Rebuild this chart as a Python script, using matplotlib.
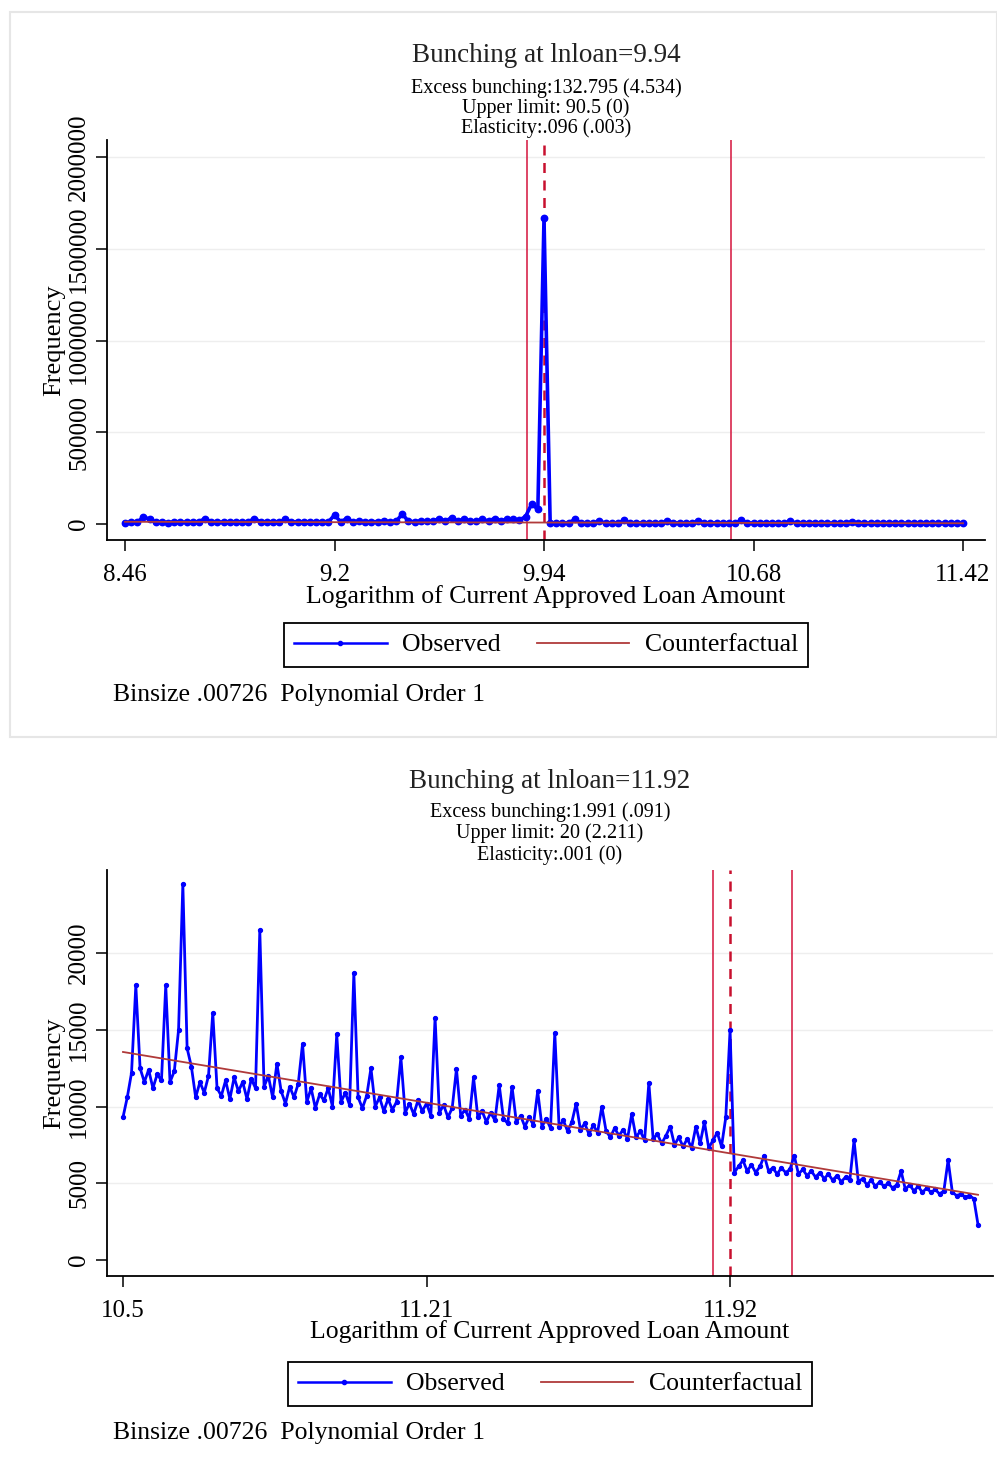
import numpy as np
import matplotlib.pyplot as plt
from matplotlib.patches import Rectangle
from matplotlib.lines import Line2D

plt.rcParams['font.family'] = ['Liberation Serif', 'DejaVu Serif']

# ---- panel 1: bunching at lnloan = 9.94 ----
top_start, top_end = 8.46, 11.42
top_ticks = [8.46, 9.2, 9.94, 10.68, 11.42]
top_cut = 9.94
top_lower, top_upper = 9.88, 10.60
# observed frequency, thousands
top_obs_k = [8, 10, 9, 40, 25, 9, 10, 8, 11, 9, 10, 9, 12, 30, 10, 9, 11, 10, 12, 10,
             11, 30, 11, 10, 12, 11, 25, 11, 12, 10, 13, 11, 12, 11, 49, 12, 30, 12, 14, 12,
             13, 12, 15, 13, 14, 55, 14, 13, 16, 14, 15, 30, 15, 35, 16, 25, 16, 17, 25, 17,
             30, 18, 25, 25, 22, 40, 110, 80, 1668, 5, 6, 5, 6, 25, 6, 5, 6, 15, 5, 6,
             5, 20, 5, 6, 5, 6, 5, 5, 15, 5, 6, 5, 5, 15, 5, 5, 6, 5, 5, 5,
             20, 5, 5, 4, 5, 4, 5, 4, 15, 4, 5, 4, 4, 5, 4, 4, 4, 5, 12, 4,
             4, 4, 3, 4, 4, 3, 4, 3, 4, 3, 3, 4, 3, 3, 3, 3, 3]
top_cf_x = [8.46, 11.42]
top_cf_y = [12000, 4000]

# ---- panel 2: bunching at lnloan = 11.92 ----
bot_start, bot_end = 10.5, 12.5
bot_ticks = [10.5, 11.21, 11.92]
bot_cut = 11.92
bot_lower, bot_upper = 11.88, 12.065
bot_obs = [9300, 10600, 12200, 17900, 12500, 11600, 12400, 11200, 12100, 11700,
           17900, 11600, 12300, 15000, 24500, 13800, 12600, 10600, 11600, 10900,
           12000, 16100, 11200, 10700, 11700, 10500, 11900, 11000, 11600, 10500,
           11800, 11200, 21500, 11300, 12000, 10600, 12800, 11000, 10200, 11300,
           10600, 11500, 14100, 10300, 11200, 9900, 10800, 10400, 11200, 10000,
           14700, 10300, 10900, 10100, 18700, 10600, 9900, 10700, 12500, 10000,
           10600, 9700, 10500, 9800, 10300, 13200, 9600, 10200, 9500, 10400,
           9700, 10200, 9400, 15800, 9600, 10100, 9300, 9900, 12450, 9400,
           9800, 9200, 11900, 9300, 9700, 9000, 9600, 9100, 11400, 9200,
           8900, 11300, 9000, 9400, 8700, 9300, 8800, 11000, 8700, 9200,
           8600, 14800, 8700, 9100, 8400, 9000, 10200, 8500, 8900, 8200,
           8800, 8300, 10000, 8400, 8000, 8600, 8100, 8500, 7900, 9500,
           8000, 8400, 7800, 11540, 7900, 8200, 7600, 8100, 8700, 7500,
           8000, 7400, 7900, 7300, 8700, 7600, 9000, 7300, 7800, 8300,
           7400, 9300, 15000, 5700, 6100, 6500, 5800, 6200, 5700, 6100,
           6800, 5800, 6000, 5600, 6000, 5700, 5900, 6800, 5600, 5900,
           5500, 5800, 5400, 5700, 5300, 5600, 5200, 5500, 5100, 5400,
           5200, 7800, 5100, 5300, 4900, 5200, 4800, 5100, 4800, 5000,
           4700, 4900, 5800, 4600, 4900, 4500, 4800, 4400, 4700, 4400,
           4600, 4300, 4500, 6500, 4400, 4200, 4300, 4100, 4200, 4000,
           2300]
bot_cf_x = [10.5, 11.92, 12.5]
bot_cf_y = [13560, 6950, 4250]

W, H = 997, 1460
fig = plt.figure(figsize=(W / 100, H / 100), dpi=100)
fig.patches.append(Rectangle((10 / W, 1 - 737 / H), 987 / W, 725 / H,
                             transform=fig.transFigure, facecolor='white',
                             edgecolor='#e6e6e6', lw=1.5, zorder=-1))

blue = '#0000ff'
cf_col = '#b03a3a'
red = '#d8264b'


def fy(py):
    return 1 - py / H


def panel(rect, x, obs, cf_x, cf_y, cut, lower, upper, xlim, ylim, xticks, yticks,
          ms, lw, title, sub, ty, sy, xly, legy, notey):
    ax = fig.add_axes(rect)
    ax.plot(x, obs, color=blue, lw=lw, marker='o', ms=ms, zorder=3)
    ax.plot(cf_x, cf_y, color=cf_col, lw=1.3, zorder=4)
    ax.axvline(lower, color=red, lw=1.2, zorder=2)
    ax.axvline(upper, color=red, lw=1.2, zorder=2)
    ax.axvline(cut, color='#c8102e', lw=1.8, ls=(0, (4, 3)), zorder=2.5)
    ax.set_xlim(*xlim)
    ax.set_ylim(*ylim)
    ax.set_xticks(xticks)
    ax.set_xticklabels([('%g' % t) for t in xticks])
    ax.set_yticks(yticks)
    ax.set_yticklabels([str(t) for t in yticks], rotation=90, va='center')
    for t in yticks[1:]:
        ax.axhline(t, color='#eeeeee', lw=1, zorder=0)
    ax.spines['top'].set_visible(False)
    ax.spines['right'].set_visible(False)
    ax.spines['left'].set_linewidth(1.3)
    ax.spines['bottom'].set_linewidth(1.3)
    ax.tick_params(labelsize=18, length=8, width=1.1, pad=4)
    ax.tick_params(axis='x', pad=9)
    ax.set_ylabel('Frequency', fontsize=19, labelpad=2)
    cx = rect[0] + rect[2] / 2
    fig.text(cx, fy(ty), title, ha='center', va='center', fontsize=19.5, color='#222222')
    for s, yy in zip(sub, sy):
        fig.text(cx, fy(yy), s, ha='center', va='center', fontsize=14.5)
    fig.text(cx, fy(xly), 'Logarithm of Current Approved Loan Amount',
             ha='center', va='center', fontsize=18.5)
    handles = [Line2D([], [], color=blue, lw=1.8, marker='o', ms=3),
               Line2D([], [], color=cf_col, lw=1.3)]
    fig.legend(handles, ['Observed', 'Counterfactual'], loc='center',
               bbox_to_anchor=(cx, fy(legy)), ncol=2, fontsize=18.5,
               frameon=True, fancybox=False, edgecolor='black', framealpha=1,
               handlelength=3.6, columnspacing=1.4, handletextpad=0.6,
               borderpad=0.4).get_frame().set_linewidth(1.3)
    fig.text(113 / W, fy(notey), 'Binsize .00726  Polynomial Order 1',
             ha='left', va='center', fontsize=18.5)
    return ax


x_top = np.linspace(top_start, top_end, len(top_obs_k))
panel([107 / W, fy(540), 878 / W, 400 / H], x_top, np.array(top_obs_k) * 1000,
      top_cf_x, top_cf_y, top_cut, top_lower, top_upper,
      (8.3964, 11.4977), (-87200, 2093800), top_ticks,
      [0, 500000, 1000000, 1500000, 2000000], 4.6, 2.6,
      'Bunching at lnloan=9.94',
      ['Excess bunching:132.795 (4.534)', 'Upper limit: 90.5 (0)', 'Elasticity:.096 (.003)'],
      55, [88, 108, 128], 597, 645, 695)

x_bot = np.linspace(bot_start, bot_end, len(bot_obs))
panel([107 / W, fy(1276), 886 / W, 406 / H], x_bot, bot_obs,
      bot_cf_x, bot_cf_y, bot_cut, bot_lower, bot_upper,
      (10.4626, 12.535), (-1043, 25420), bot_ticks,
      [0, 5000, 10000, 15000, 20000], 2.8, 2.0,
      'Bunching at lnloan=11.92',
      ['Excess bunching:1.991 (.091)', 'Upper limit: 20 (2.211)', 'Elasticity:.001 (0)'],
      781, [812, 833, 855], 1332, 1384, 1433)

fig.savefig('out.png', dpi=100)
